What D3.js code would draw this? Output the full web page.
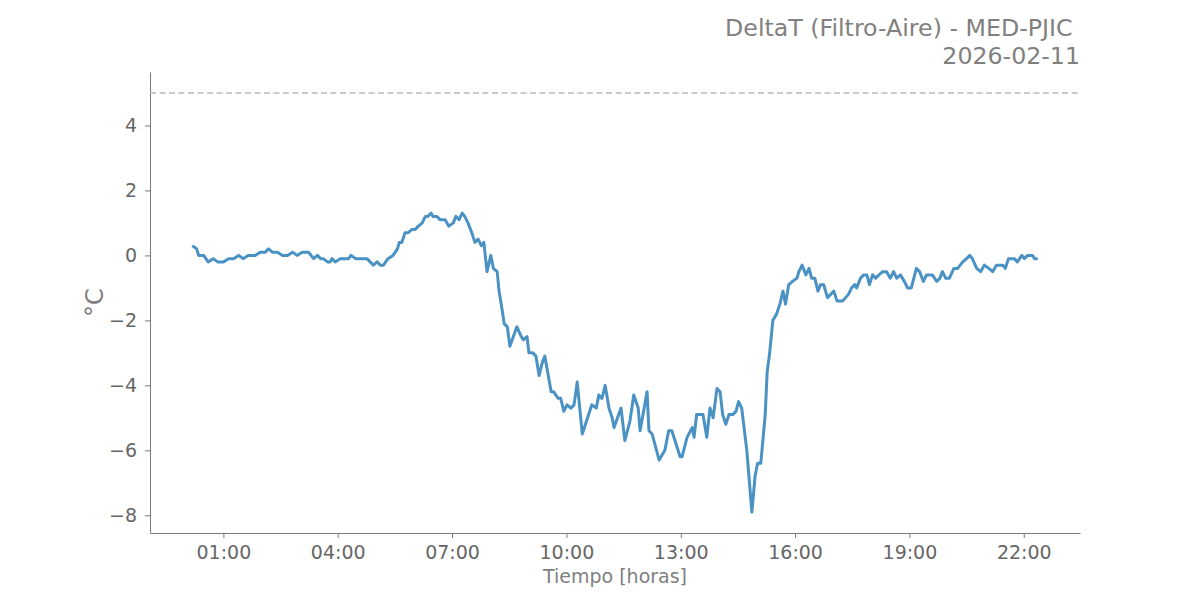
<!DOCTYPE html>
<html>
<head>
<meta charset="utf-8">
<script src="https://cdn.jsdelivr.net/npm/d3@7"></script>
<style>
  body { margin: 0; background: #fff; }
  svg text { font-family: "DejaVu Sans", sans-serif; }
</style>
</head>
<body>
<svg id="chart" width="1200" height="600"></svg>
<script>
// data (time of day, deltaT in °C)
var day = "2026-02-11";
var times = ["00:11","00:18","00:21","00:29","00:36","00:44","00:51","01:00","01:08","01:16","01:24","01:31","01:39","01:50","01:58","02:06","02:11","02:17","02:25","02:33","02:41","02:49","02:56","03:04","03:09","03:14","03:22","03:28","03:33","03:37","03:44","03:48","03:51","03:56","04:04","04:17","04:21","04:28","04:46","04:51","04:56","05:02","05:07","05:12","05:19","05:27","05:34","05:37","05:41","05:46","05:51","05:57","06:02","06:07","06:13","06:18","06:22","06:27","06:30","06:36","06:41","06:49","06:55","07:02","07:06","07:11","07:16","07:20","07:25","07:31","07:36","07:41","07:46","07:50","07:55","08:01","08:05","08:11","08:14","08:19","08:22","08:27","08:31","08:42","08:49","08:52","08:58","09:01","09:07","09:12","09:17","09:22","09:26","09:36","09:40","09:47","09:51","09:56","10:01","10:07","10:12","10:17","10:25","10:40","10:47","10:51","10:56","11:01","11:07","11:12","11:15","11:26","11:32","11:40","11:46","11:53","11:56","12:07","12:10","12:15","12:26","12:35","12:41","12:46","12:59","13:02","13:10","13:18","13:21","13:25","13:35","13:41","13:46","13:51","13:57","14:02","14:06","14:11","14:16","14:22","14:27","14:31","14:36","14:44","14:52","14:57","15:01","15:06","15:13","15:16","15:20","15:25","15:31","15:36","15:41","15:45","15:50","15:56","16:03","16:06","16:11","16:17","16:22","16:26","16:31","16:36","16:40","16:45","16:51","16:56","17:01","17:06","17:15","17:24","17:29","17:34","17:37","17:43","17:48","17:53","17:57","18:02","18:07","18:12","18:18","18:24","18:30","18:35","18:40","18:46","18:52","18:57","19:03","19:11","19:16","19:22","19:27","19:36","19:43","19:48","19:52","19:57","20:03","20:10","20:16","20:24","20:30","20:35","20:39","20:46","20:52","20:58","21:05","21:11","21:17","21:27","21:31","21:36","21:45","21:50","21:57","22:01","22:06","22:14","22:17","22:22"];
var deltaT = [0.3,0.2,0.0,0.0,-0.2,-0.1,-0.2,-0.2,-0.1,-0.1,0.0,-0.1,0.0,0.0,0.1,0.1,0.2,0.1,0.1,0.0,0.0,0.1,0.0,0.1,0.1,0.1,-0.1,0.0,-0.1,-0.1,-0.2,-0.2,-0.1,-0.2,-0.1,-0.1,0.0,-0.1,-0.1,-0.2,-0.3,-0.2,-0.3,-0.3,-0.1,0.0,0.2,0.4,0.4,0.7,0.7,0.8,0.8,0.9,1.0,1.2,1.2,1.3,1.2,1.2,1.1,1.1,0.9,1.0,1.2,1.1,1.3,1.2,1.0,0.7,0.4,0.5,0.3,0.4,-0.5,0.0,-0.4,-0.5,-1.1,-1.7,-2.1,-2.2,-2.8,-2.2,-2.5,-2.6,-2.5,-3.0,-3.0,-3.1,-3.7,-3.3,-3.1,-4.2,-4.2,-4.4,-4.4,-4.8,-4.6,-4.7,-4.6,-3.9,-5.5,-4.6,-4.7,-4.3,-4.4,-4.0,-4.7,-5.0,-5.3,-4.7,-5.7,-5.1,-4.3,-4.7,-5.4,-4.2,-5.4,-5.5,-6.3,-6.0,-5.4,-5.4,-6.2,-6.2,-5.6,-5.3,-5.6,-4.9,-4.9,-5.6,-4.7,-5.0,-4.1,-4.2,-4.9,-5.2,-4.9,-4.9,-4.8,-4.5,-4.7,-6.0,-7.9,-6.8,-6.4,-6.4,-4.9,-3.6,-3.0,-2.0,-1.8,-1.5,-1.1,-1.5,-0.9,-0.8,-0.7,-0.5,-0.3,-0.6,-0.4,-0.7,-0.7,-1.1,-0.9,-0.9,-1.3,-1.2,-1.1,-1.4,-1.4,-1.2,-1.0,-0.9,-1.0,-0.7,-0.6,-0.6,-0.9,-0.6,-0.7,-0.6,-0.5,-0.5,-0.7,-0.5,-0.7,-0.6,-0.8,-1.0,-1.0,-0.4,-0.5,-0.8,-0.6,-0.6,-0.8,-0.7,-0.5,-0.7,-0.7,-0.4,-0.4,-0.2,-0.1,0.0,-0.1,-0.4,-0.5,-0.3,-0.4,-0.5,-0.3,-0.3,-0.4,-0.1,-0.1,-0.2,0.0,-0.1,0.0,0.0,-0.1,-0.1];
var limit = 5;
var xTickLabels = ["01:00","04:00","07:00","10:00","13:00","16:00","19:00","22:00"];
var yTicks = [-8, -6, -4, -2, 0, 2, 4];

var parse = d3.timeParse("%Y-%m-%d %H:%M");
var data = times.map(function(t, i) { return { t: parse(day + " " + t), v: deltaT[i] }; });

var svg = d3.select("#chart"),
    margin = { top: 72, right: 120, bottom: 67, left: 150 },
    width = 1200 - margin.left - margin.right,
    height = 600 - margin.top - margin.bottom,
    g = svg.append("g").attr("transform", "translate(" + margin.left + "," + margin.top + ")");

// matplotlib style 5% padding on both axes
var tExt = d3.extent(data, function(d) { return d.t; }),
    tPad = (tExt[1] - tExt[0]) * 0.05;
var vMin = d3.min(deltaT), vMax = Math.max(d3.max(deltaT), limit),
    vPad = (vMax - vMin) * 0.05;

var x = d3.scaleTime()
    .domain([new Date(+tExt[0] - tPad), new Date(+tExt[1] + tPad)])
    .range([0, width]);
var y = d3.scaleLinear()
    .domain([vMin - vPad, vMax + vPad])
    .range([height, 0]);

var axisColor = "#7a7a7a", tickText = "#666";

var xAxis = g.append("g")
    .attr("transform", "translate(0," + height + ")")
    .call(d3.axisBottom(x)
      .tickValues(xTickLabels.map(function(s) { return parse(day + " " + s); }))
      .tickFormat(d3.timeFormat("%H:%M"))
      .tickSizeInner(5).tickSizeOuter(0).tickPadding(8));

var yAxis = g.append("g")
    .call(d3.axisLeft(y).tickValues(yTicks).tickSizeInner(5).tickSizeOuter(0).tickPadding(8));

[xAxis, yAxis].forEach(function(a) {
  a.select(".domain").attr("stroke", axisColor);
  a.selectAll(".tick line").attr("stroke", axisColor);
  a.selectAll(".tick text").attr("fill", tickText).style("font-size", "19px");
});

// threshold
g.append("line")
    .attr("x1", 0).attr("x2", width)
    .attr("y1", y(limit)).attr("y2", y(limit))
    .attr("stroke", "#bbb").attr("stroke-width", 1.5)
    .attr("stroke-dasharray", "6,3.5");

var line = d3.line()
    .x(function(d) { return x(d.t); })
    .y(function(d) { return y(d.v); });

g.append("path")
    .datum(data)
    .attr("fill", "none")
    .attr("stroke", "#4a92c4")
    .attr("stroke-width", 3)
    .attr("stroke-linejoin", "round")
    .attr("d", line);

// labels
svg.append("text")
    .attr("x", margin.left + width / 2).attr("y", 583)
    .attr("text-anchor", "middle")
    .attr("fill", "#808080").style("font-size", "19px")
    .text("Tiempo [horas]");

svg.append("text")
    .attr("transform", "translate(103," + (margin.top + height / 2) + ") rotate(-90)")
    .attr("text-anchor", "middle")
    .attr("fill", "#808080").style("font-size", "24px")
    .text("°C");

var title = svg.append("text")
    .attr("text-anchor", "end")
    .attr("fill", "#808080").style("font-size", "23.7px");
title.append("tspan").attr("x", 1080).attr("y", 36).text("DeltaT (Filtro-Aire) - MED-PJIC\u00a0");
title.append("tspan").attr("x", 1080).attr("y", 64).text(day);
</script>
</body>
</html>
